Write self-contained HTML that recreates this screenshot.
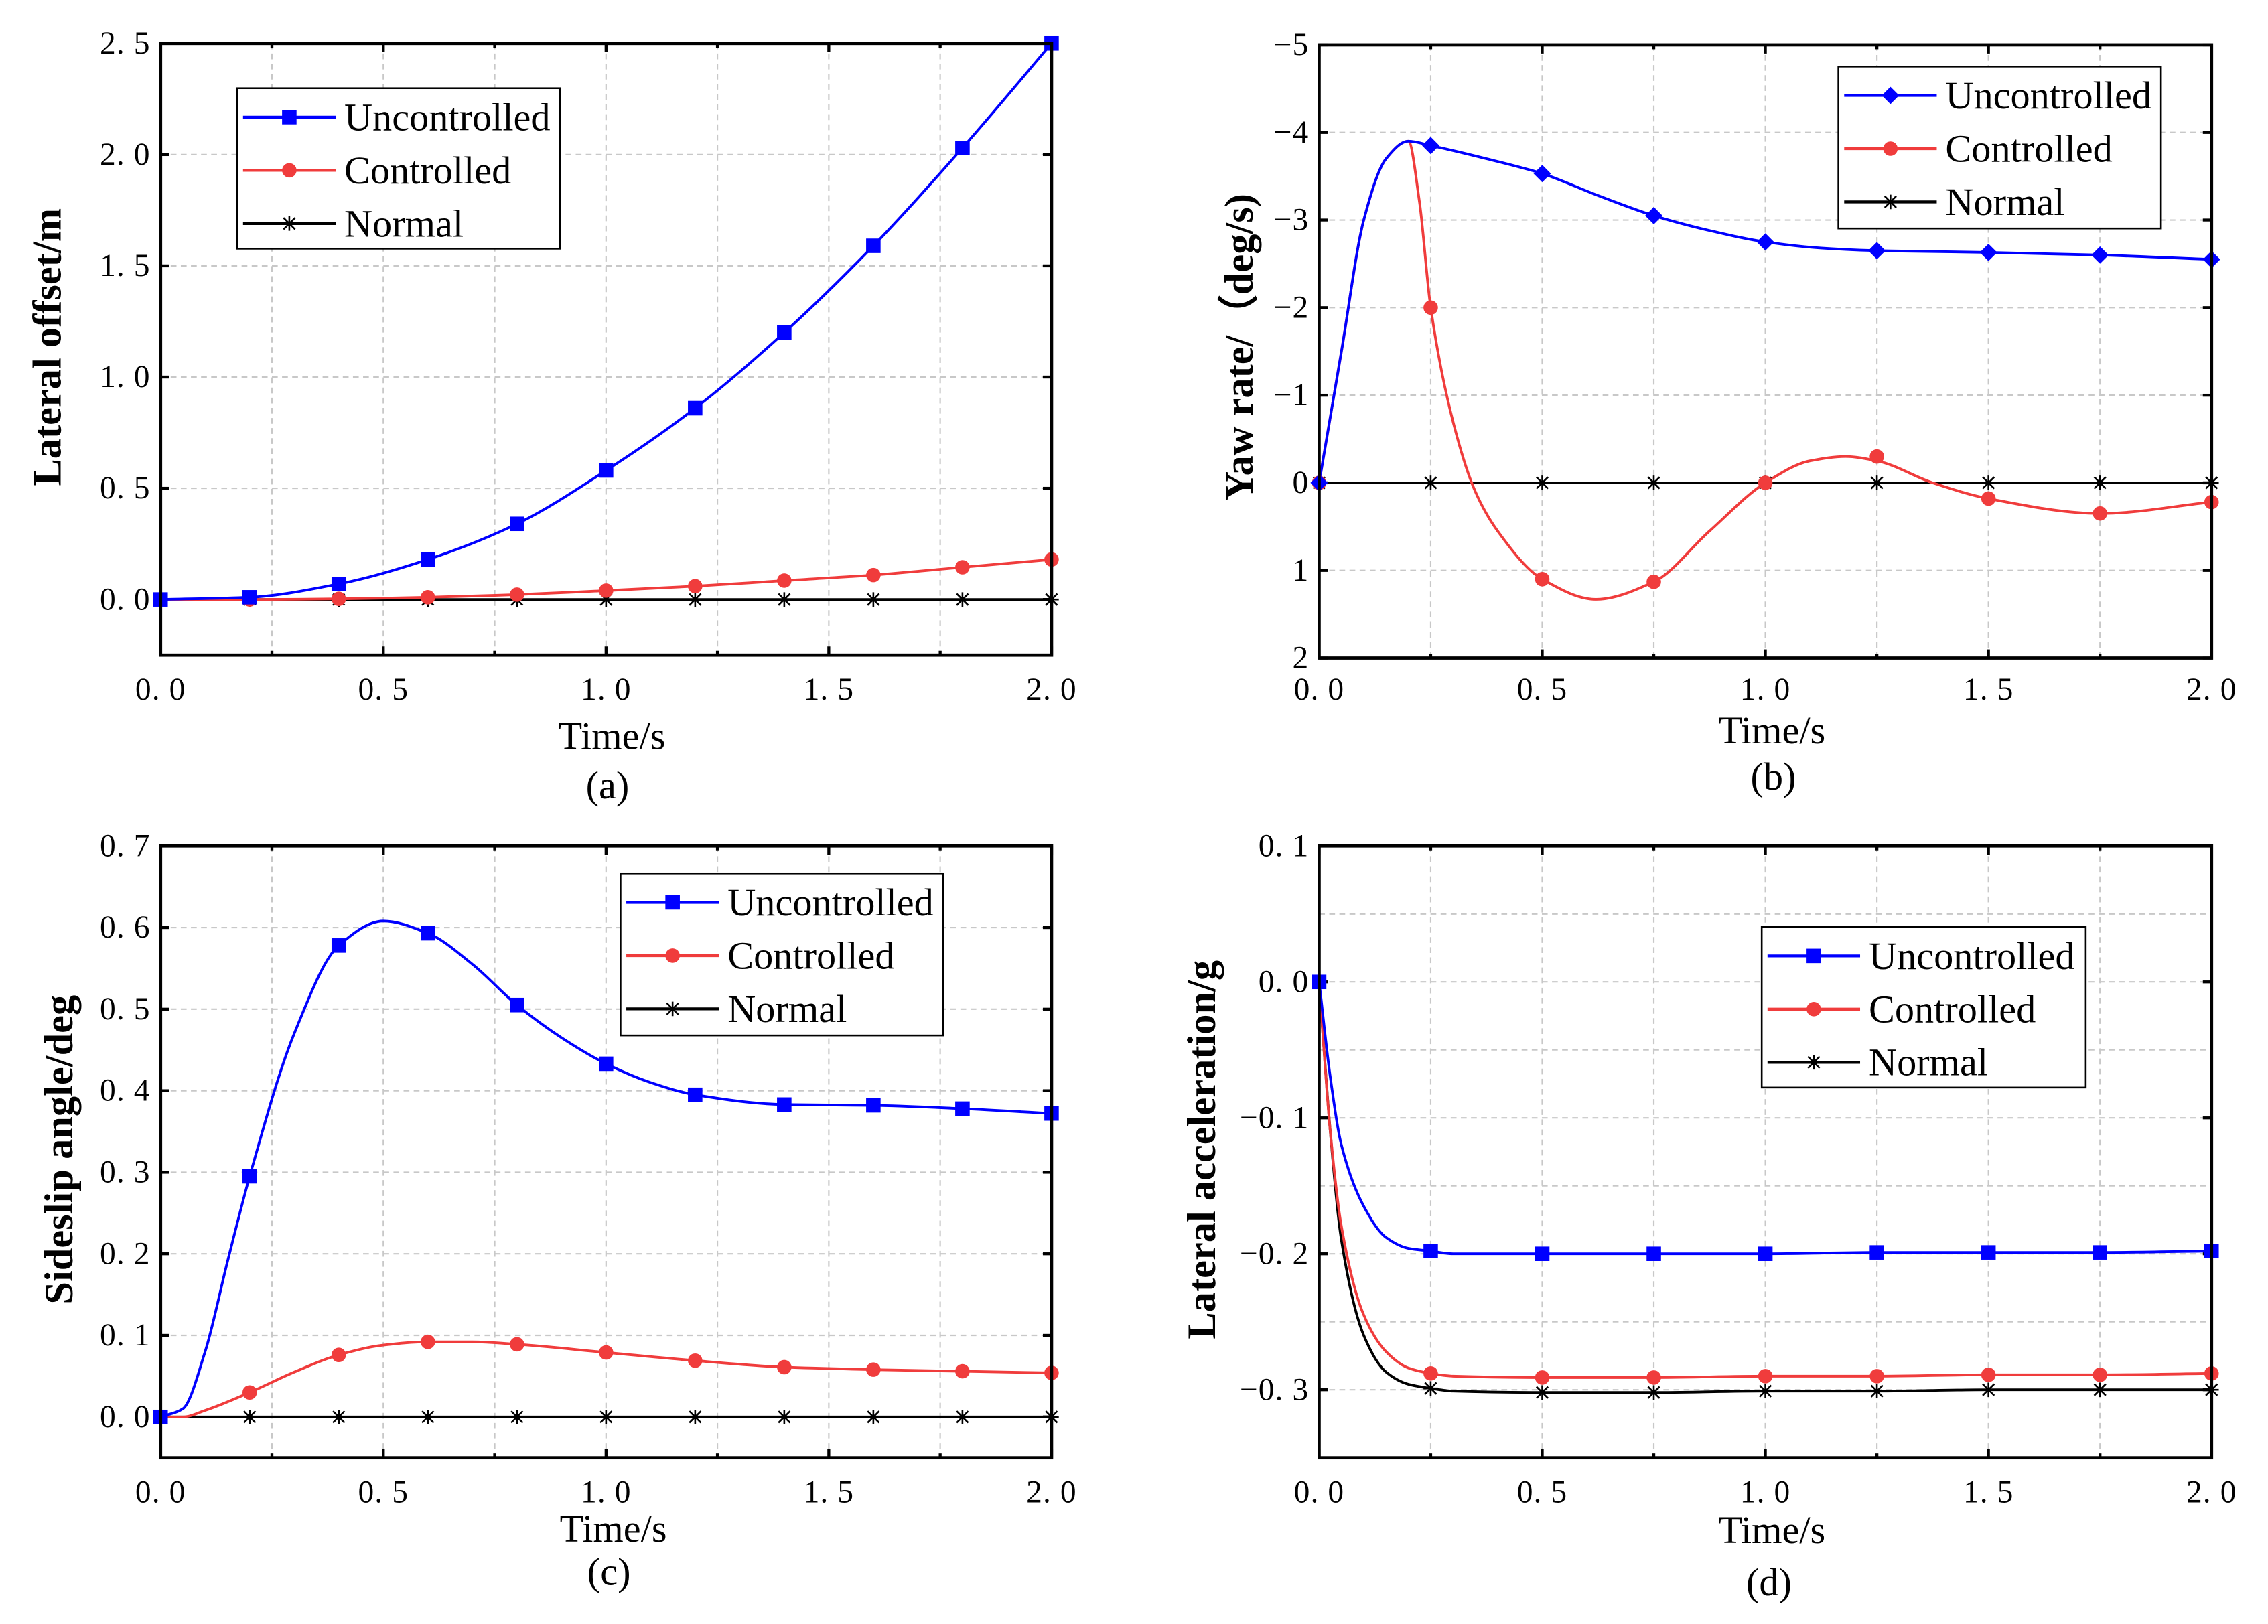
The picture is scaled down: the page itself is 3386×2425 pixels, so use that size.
<!DOCTYPE html>
<html><head><meta charset="utf-8"><style>
html,body{margin:0;padding:0;background:#fff;}
svg{display:block;}
text{font-family:"Liberation Serif",serif;}
</style></head><body>
<svg id="fig" width="3386" height="2425" viewBox="0 0 1568 1123" xmlns="http://www.w3.org/2000/svg"></svg>
<script>
// ---------- Panel (a) data ----------
const aMarkT = [0,0.2,0.4,0.6,0.8,1.0,1.2,1.4,1.6,1.8,2.0];
const aUnc = [0,0.01,0.07,0.18,0.34,0.58,0.86,1.20,1.59,2.03,2.50];
const aCtl = [0,0,0.003,0.01,0.022,0.04,0.06,0.085,0.11,0.145,0.18];
const aNor = [0,0,0,0,0,0,0,0,0,0,0];
const aYTicks = [0,0.5,1.0,1.5,2.0,2.5];
const aYLabels = ["0. 0","0. 5","1. 0","1. 5","2. 0","2. 5"];
// ---------- Panel (b) data ----------
const bUncT = [0,0.05,0.1,0.15,0.2,0.25,0.375,0.5,0.625,0.75,0.875,1.0,1.125,1.25,1.5,1.75,2.0];
const bUnc = [0,-1.5,-3.0,-3.7,-3.9,-3.85,-3.7,-3.53,-3.28,-3.05,-2.88,-2.75,-2.68,-2.65,-2.63,-2.6,-2.55];
const bCtlT = [0,0.05,0.1,0.15,0.2,0.225,0.25,0.3,0.35,0.4,0.5,0.62,0.75,0.875,1.0,1.1,1.18,1.25,1.375,1.5,1.75,2.0];
const bCtl = [0,-1.5,-3.0,-3.7,-3.9,-3.2,-2.0,-0.7,0.1,0.55,1.1,1.33,1.13,0.55,0,-0.25,-0.3,-0.25,0.0,0.18,0.35,0.22];
const bMarkT = [0,0.25,0.5,0.75,1.0,1.25,1.5,1.75,2.0];
const bUncMark = [0,-3.85,-3.53,-3.05,-2.75,-2.65,-2.63,-2.6,-2.55];
const bCtlMark = [0,-2.0,1.1,1.13,0,-0.3,0.18,0.35,0.22];
const bNorMark = [0,0,0,0,0,0,0,0,0];
const bYTicks = [-5,-4,-3,-2,-1,0,1,2];
const bYLabels = ["−5","−4","−3","−2","−1","0","1","2"];
// ---------- Panel (c) data ----------
const cUncT = [0,0.05,0.1,0.15,0.2,0.3,0.4,0.5,0.6,0.7,0.8,0.9,1.0,1.1,1.2,1.4,1.6,1.8,2.0];
const cUnc = [0,0.01,0.08,0.19,0.295,0.47,0.578,0.608,0.593,0.555,0.505,0.465,0.433,0.41,0.395,0.383,0.382,0.378,0.372];
const cCtlT = [0,0.05,0.1,0.2,0.3,0.4,0.5,0.6,0.7,0.8,1.0,1.2,1.4,1.6,1.8,2.0];
const cCtl = [0,0,0.008,0.03,0.055,0.076,0.088,0.092,0.092,0.089,0.079,0.069,0.061,0.058,0.056,0.054];
const cMarkT = [0,0.2,0.4,0.6,0.8,1.0,1.2,1.4,1.6,1.8,2.0];
const cUncMark = [0,0.295,0.578,0.593,0.505,0.433,0.395,0.383,0.382,0.378,0.372];
const cCtlMark = [0,0.03,0.076,0.092,0.089,0.079,0.069,0.061,0.058,0.056,0.054];
const cNorMark = [0,0,0,0,0,0,0,0,0,0,0];
const cYTicks = [0,0.1,0.2,0.3,0.4,0.5,0.6,0.7];
const cYLabels = ["0. 0","0. 1","0. 2","0. 3","0. 4","0. 5","0. 6","0. 7"];
// ---------- Panel (d) data ----------
const dT = [0,0.025,0.05,0.1,0.15,0.2,0.25,0.3,0.5,0.75,1.0,1.25,1.5,1.75,2.0];
const dUnc = [0,-0.07,-0.12,-0.165,-0.188,-0.196,-0.198,-0.2,-0.2,-0.2,-0.2,-0.199,-0.199,-0.199,-0.198];
const dCtl = [0,-0.11,-0.18,-0.245,-0.272,-0.284,-0.288,-0.29,-0.291,-0.291,-0.29,-0.29,-0.289,-0.289,-0.288];
const dNor = [0,-0.11,-0.19,-0.26,-0.287,-0.296,-0.299,-0.301,-0.302,-0.302,-0.301,-0.301,-0.3,-0.3,-0.3];
const dMarkT = [0,0.25,0.5,0.75,1.0,1.25,1.5,1.75,2.0];
const dUncMark = [0,-0.198,-0.2,-0.2,-0.2,-0.199,-0.199,-0.199,-0.198];
const dCtlMark = [0,-0.288,-0.291,-0.291,-0.29,-0.29,-0.289,-0.289,-0.288];
const dNorMark = [0,-0.299,-0.302,-0.302,-0.301,-0.301,-0.3,-0.3,-0.3];
const dYTicks = [-0.3,-0.2,-0.1,0.0,0.1];
const dYLabels = ["−0. 3","−0. 2","−0. 1","0. 0","0. 1"];
const xTicks = [0,0.5,1.0,1.5,2.0];
const xLabels = ["0. 0","0. 5","1. 0","1. 5","2. 0"];
const seriesNames = ["Uncontrolled","Controlled","Normal"];

const NS="http://www.w3.org/2000/svg";
const svg=document.getElementById('fig');
function mk(tag,attrs,parent){const e=document.createElementNS(NS,tag);for(const k in attrs)e.setAttribute(k,attrs[k]);(parent||svg).appendChild(e);return e;}

// monotone cubic (Fritsch-Carlson) path, no overshoot
function mono(pts){
  const n=pts.length;const dx=[],dy=[],m=[];
  for(let i=0;i<n-1;i++){dx.push(pts[i+1][0]-pts[i][0]);dy.push(pts[i+1][1]-pts[i][1]);m.push(dy[i]/dx[i]);}
  const tg=[m[0]];
  for(let i=1;i<n-1;i++){
    if(m[i-1]*m[i]<=0)tg.push(0);
    else{const w1=2*dx[i]+dx[i-1],w2=dx[i]+2*dx[i-1];tg.push((w1+w2)/(w1/m[i-1]+w2/m[i]));}
  }
  tg.push(m[n-2]);
  let d="M"+pts[0][0].toFixed(2)+","+pts[0][1].toFixed(2);
  for(let i=0;i<n-1;i++){
    const h=dx[i]/3;
    d+=" C"+(pts[i][0]+h).toFixed(2)+","+(pts[i][1]+tg[i]*h).toFixed(2)+" "+(pts[i+1][0]-h).toFixed(2)+","+(pts[i+1][1]-tg[i+1]*h).toFixed(2)+" "+pts[i+1][0].toFixed(2)+","+pts[i+1][1].toFixed(2);
  }
  return d;
}
function marker(g,type,x,y,color){
  let e;
  if(type==='square'){e=mk('rect',{x:x-5,y:y-5,width:10,height:10,fill:color},g);}
  else if(type==='diamond'){e=mk('polygon',{points:`${x},${y-6} ${x+6},${y} ${x},${y+6} ${x-6},${y}`,fill:color},g);}
  else if(type==='circle'){e=mk('circle',{cx:x,cy:y,r:5,fill:color},g);}
  else {e=mk('path',{d:`M${x-5},${y}H${x+5}M${x},${y-5}V${y+5}M${x-4},${y-4}L${x+4},${y+4}M${x-4},${y+4}L${x+4},${y-4}`,stroke:'#000','stroke-width':1.2,fill:'none'},g);}
  
  
}

function panel(cfg){
  const g=mk('g',{});
  
  
  const {L,R,T,B,ymin,ymax,inv}=cfg;
  const sx=t=>L+(t/2)*(R-L);
  const sy=v=>inv? T+(v-ymin)/(ymax-ymin)*(B-T) : B-(v-ymin)/(ymax-ymin)*(B-T);
  const grid=mk('g',{stroke:'#c8c8c8','stroke-width':1,'stroke-dasharray':'4,3'},g);
  
  
  for(let t=0.25;t<2;t+=0.25) mk('line',{x1:sx(t),x2:sx(t),y1:T,y2:B},grid);
  cfg.yGrid.forEach(v=>mk('line',{x1:L,x2:R,y1:sy(v),y2:sy(v)},grid));
  const tk=mk('g',{stroke:'#000','stroke-width':2},g);
  
  
  for(let t=0;t<=2.001;t+=0.25){const len=(Math.round(t*4)%2===0)?6:3;
    mk('line',{x1:sx(t),x2:sx(t),y1:B,y2:B-len},tk);mk('line',{x1:sx(t),x2:sx(t),y1:T,y2:T+len},tk);}
  cfg.yTicks.forEach(v=>{mk('line',{x1:L,x2:L+6,y1:sy(v),y2:sy(v)},tk);mk('line',{x1:R,x2:R-6,y1:sy(v),y2:sy(v)},tk);});
  cfg.yTicks.forEach((v,i)=>{const t=mk('text',{x:L-7,y:sy(v)+7,'text-anchor':'end','font-size':22,'letter-spacing':'0.5'},g);t.textContent=cfg.yLabels[i];
    });
  xTicks.forEach((v,i)=>{const t=mk('text',{x:sx(v),y:cfg.xlY,'text-anchor':'middle','font-size':22,'letter-spacing':'0.5'},g);t.textContent=xLabels[i];
    });
  let t=mk('text',{x:cfg.xtX,y:cfg.xtY,'text-anchor':'middle','font-size':27},g);t.textContent='Time/s';
  
  t=mk('text',{x:cfg.capX,y:cfg.capY,'text-anchor':'middle','font-size':27},g);t.textContent='('+cfg.id+')';
  
  t=mk('text',{x:cfg.ytX,y:cfg.ytY,'text-anchor':'middle','font-size':28,'font-weight':'bold',transform:`rotate(-90 ${cfg.ytX} ${cfg.ytY})`},g);t.textContent=cfg.ytitle;
  
  const clip='clip'+cfg.id;
  const cp=mk('clipPath',{id:clip},g);mk('rect',{x:L,y:T,width:R-L,height:B-T},cp);
  const sg=mk('g',{'clip-path':`url(#${clip})`},g);
  
  
  cfg.series.slice().reverse().forEach(s=>{
    const pts=s.t.map((tt,i)=>[sx(tt),sy(s.v[i])]);
    const p=mk('path',{d:mono(pts),fill:'none',stroke:s.color,'stroke-width':1.8},sg);
    
    
  });
  const mg=mk('g',{},g);
  
  
  cfg.series.slice().reverse().forEach(s=>{s.mt.forEach((tt,i)=>marker(mg,s.mk,sx(tt),sy(s.mv[i]),s.color));});
  const fr=mk('rect',{x:L,y:T,width:R-L,height:B-T,fill:'none',stroke:'#000','stroke-width':2.2},g);
  
  const lg=mk('g',{},g);
  
  
  const [lx,ly,lw,lh]=cfg.leg;
  mk('rect',{x:lx,y:ly,width:lw,height:lh,fill:'#fff',stroke:'#000','stroke-width':1.2},lg);
  cfg.series.forEach((s,i)=>{
    const ey=ly+20+i*36.8;
    const e=mk('g',{},lg);
    
    
    mk('line',{x1:lx+4,x2:lx+68,y1:ey,y2:ey,stroke:s.color,'stroke-width':2},e);
    marker(e,s.mk,lx+36,ey,s.color);
    const tx=mk('text',{x:lx+74,y:ey+9,'font-size':27},e);tx.textContent=s.name;
  });
}
const BLUE='#0000ff',RED='#f03c3c',BLK='#000';
panel({id:'a',L:111,R:727,T:30,B:453,ymin:-0.25,ymax:2.5,inv:false,yTicks:aYTicks,yLabels:aYLabels,yGrid:[0.5,1,1.5,2],
  xlY:484,xtX:423,xtY:518,capX:420,capY:552,ytX:42,ytY:240,ytitle:'Lateral offset/m',leg:[164,61,223,111],
  series:[{name:seriesNames[0],t:aMarkT,v:aUnc,mt:aMarkT,mv:aUnc,color:BLUE,mk:'square'},
          {name:seriesNames[1],t:aMarkT,v:aCtl,mt:aMarkT,mv:aCtl,color:RED,mk:'circle'},
          {name:seriesNames[2],t:aMarkT,v:aNor,mt:aMarkT,mv:aNor,color:BLK,mk:'star'}]});
panel({id:'b',L:912,R:1529,T:31,B:455,ymin:-5,ymax:2,inv:true,yTicks:bYTicks,yLabels:bYLabels,yGrid:[-4,-3,-2,-1,0,1],
  xlY:484,xtX:1225,xtY:514,capX:1226,capY:546,ytX:866,ytY:240,ytitle:'Yaw rate/（deg/s)',leg:[1271,46,223,112],
  series:[{name:seriesNames[0],t:bUncT,v:bUnc,mt:bMarkT,mv:bUncMark,color:BLUE,mk:'diamond'},
          {name:seriesNames[1],t:bCtlT,v:bCtl,mt:bMarkT,mv:bCtlMark,color:RED,mk:'circle'},
          {name:seriesNames[2],t:bMarkT,v:bNorMark,mt:bMarkT,mv:bNorMark,color:BLK,mk:'star'}]});
panel({id:'c',L:111,R:727,T:585,B:1008,ymin:-0.05,ymax:0.7,inv:false,yTicks:cYTicks,yLabels:cYLabels,yGrid:[0.1,0.2,0.3,0.4,0.5,0.6],
  xlY:1039,xtX:424,xtY:1066,capX:421,capY:1096,ytX:50,ytY:795,ytitle:'Sideslip angle/deg',leg:[429,604,223,112],
  series:[{name:seriesNames[0],t:cUncT,v:cUnc,mt:cMarkT,mv:cUncMark,color:BLUE,mk:'square'},
          {name:seriesNames[1],t:cCtlT,v:cCtl,mt:cMarkT,mv:cCtlMark,color:RED,mk:'circle'},
          {name:seriesNames[2],t:cMarkT,v:cNorMark,mt:cMarkT,mv:cNorMark,color:BLK,mk:'star'}]});
panel({id:'d',L:912,R:1529,T:585,B:1008,ymin:-0.35,ymax:0.1,inv:false,yTicks:dYTicks,yLabels:dYLabels,yGrid:[-0.3,-0.25,-0.2,-0.15,-0.1,-0.05,0,0.05],
  xlY:1039,xtX:1225,xtY:1067,capX:1223,capY:1103,ytX:840,ytY:795,ytitle:'Lateral acceleration/g',leg:[1218,641,224,111],
  series:[{name:seriesNames[0],t:dT,v:dUnc,mt:dMarkT,mv:dUncMark,color:BLUE,mk:'square'},
          {name:seriesNames[1],t:dT,v:dCtl,mt:dMarkT,mv:dCtlMark,color:RED,mk:'circle'},
          {name:seriesNames[2],t:dT,v:dNor,mt:dMarkT,mv:dNorMark,color:BLK,mk:'star'}]});
</script>
</body></html>
